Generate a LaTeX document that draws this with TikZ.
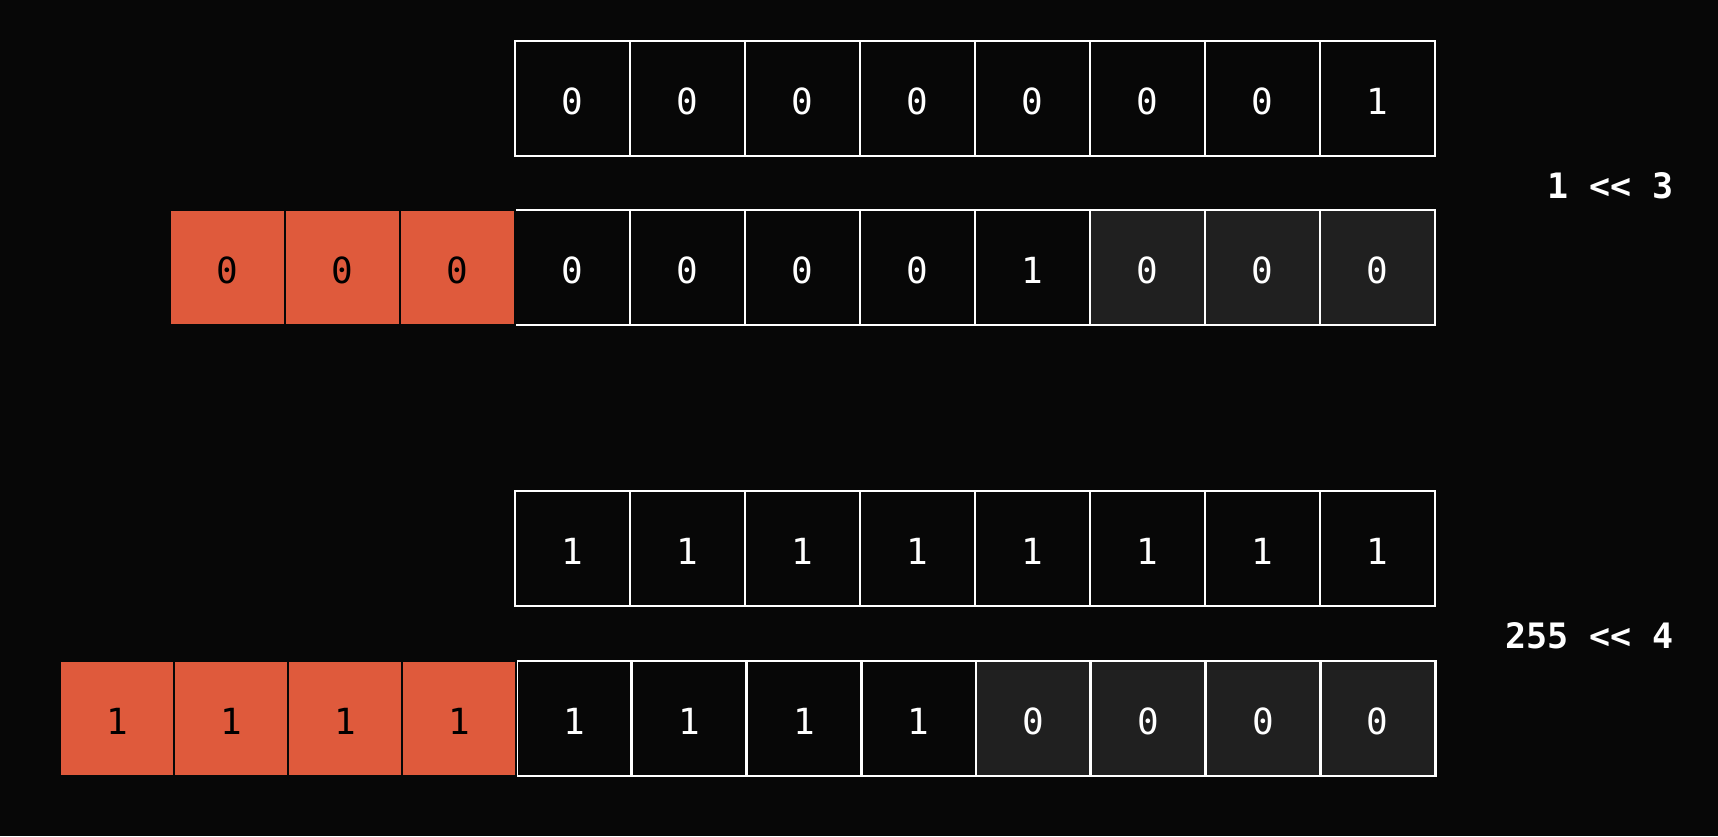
\documentclass[tikz,border=0pt]{standalone}
\usepackage{fontspec}
\newfontfamily\cellfont{DejaVu Sans Mono}
\newfontfamily\labfont{DejaVu Sans Mono}[Ligatures=ResetAll]
\definecolor{bg}{HTML}{070707}
\definecolor{shifted}{HTML}{DF5A3C}
\definecolor{filled}{HTML}{202020}
\begin{document}
\begin{tikzpicture}[x=1pt,y=-1pt,
  cell/.style={draw=white, line width=2.7pt, fill=bg, minimum width=115pt, minimum height=115pt,
    inner sep=0pt, text height=32pt, text depth=0pt, text=white, font=\cellfont\fontsize{36}{38}\selectfont},
  gcell/.style={cell, fill=filled},
  ocell/.style={cell, draw=bg, line width=2pt, fill=shifted, text=black},
  lab/.style={anchor=east, text=white, inner sep=0pt, font=\labfont\bfseries\fontsize{35}{37}\selectfont}]
\fill[bg] (0,0) rectangle (1718,836);
\useasboundingbox (0,0) rectangle (1718,836);
% row 1
\foreach \b [count=\i from 0] in {0,0,0,0,0,0,0,1}
  \node[cell] (ra\i) at ({572.5+115*\i},98.5) {\b};
% row 2
\foreach \b/\s [count=\i from 0] in {0/cell,0/cell,0/cell,0/cell,1/cell,0/gcell,0/gcell,0/gcell}
  \node[\s] (rb\i) at ({572.5+115*\i},267.5) {\b};
\foreach \i in {0,1,2}
  \node[ocell] (ob\i) at ({227.5+115*\i},267.5) {0};
% row 3
\foreach \b [count=\i from 0] in {1,1,1,1,1,1,1,1}
  \node[cell] (rc\i) at ({572.5+115*\i},548.5) {\b};
% row 4
\foreach \b/\s [count=\i from 0] in {1/cell,1/cell,1/cell,1/cell,0/gcell,0/gcell,0/gcell,0/gcell}
  \node[\s] (rd\i) at ({574.5+114.75*\i},718.5) {\b};
\foreach \i in {0,1,2,3}
  \node[ocell, minimum width=114pt] (od\i) at ({117+114*\i},718.5) {1};
% labels
\node[lab] (l1) at (1674,186) {1 << 3};
\node[lab] (l2) at (1674,635.5) {255 << 4};
\end{tikzpicture}
\end{document}
